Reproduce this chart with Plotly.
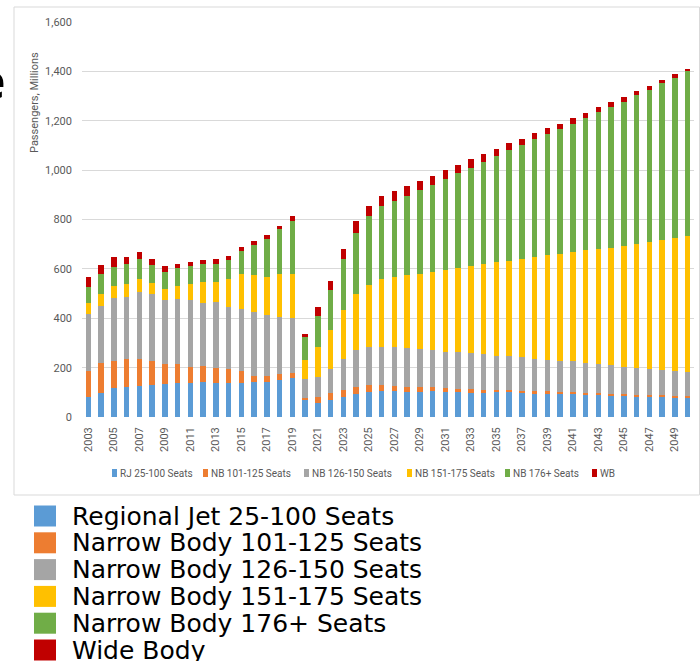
import plotly.graph_objects as go

# ---------------- data ----------------
years = [str(y) for y in range(2003, 2051)]

rj = [82, 96, 116, 122, 127, 130, 132, 138, 136,
      142, 139, 139, 139, 142, 142, 151, 159, 67,
      58, 69, 83, 95, 100, 104, 104, 103, 101,
      104, 103, 102, 99, 99, 100, 100, 97, 96, 95,
      95, 96, 92, 92, 89, 87, 85, 83, 83, 80, 80]
nb101 = [106, 121, 112, 113, 108, 98, 81, 75, 67,
         63, 59, 54, 47, 23, 23, 22, 20, 11,
         25, 27, 28, 27, 29, 25, 20, 19, 19,
         18, 15, 12, 13, 12, 10, 10, 9, 8, 9,
         5, 4, 7, 5, 6, 8, 6, 5, 5, 5, 4]
nb126 = [228, 234, 253, 251, 270, 270, 260, 265, 270,
         258, 269, 252, 252, 259, 248, 232, 222, 78,
         78, 99, 124, 149, 154, 156, 160, 157, 155,
         149, 147, 149, 147, 144, 139, 136, 136, 133, 129,
         129, 125, 121, 118, 115, 109, 108, 107, 103, 103, 97]
nb151 = [48, 47, 51, 54, 54, 46, 45, 54, 68,
         83, 82, 113, 142, 151, 155, 175, 179, 77,
         124, 158, 197, 228, 253, 275, 282, 295, 305,
         317, 331, 341, 354, 364, 378, 386, 400, 412, 424,
         432, 443, 456, 467, 477, 491, 503, 515, 525, 536, 551]
nb176 = [61, 80, 77, 81, 80, 72, 70, 71, 70,
         73, 70, 80, 93, 122, 154, 181, 216, 92,
         126, 161, 209, 246, 277, 294, 311, 323, 339,
         352, 369, 383, 397, 414, 429, 449, 460, 476, 490,
         505, 521, 535, 553, 570, 583, 602, 617, 637, 652, 671]
wb = [41, 38, 38, 27, 31, 24, 24, 17, 18,
      19, 22, 16, 16, 17, 17, 15, 17, 10,
      34, 37, 41, 48, 43, 42, 39, 41, 36,
      38, 36, 34, 35, 31, 29, 28, 26, 26, 24,
      23, 23, 23, 20, 20, 21, 16, 16, 12, 16, 9]

short_names = ["RJ 25-100 Seats", "NB 101-125 Seats", "NB 126-150 Seats",
               "NB 151-175 Seats", "NB 176+ Seats", "WB"]
long_names = ["Regional Jet 25-100 Seats", "Narrow Body 101-125 Seats",
              "Narrow Body 126-150 Seats", "Narrow Body 151-175 Seats",
              "Narrow Body 176+ Seats", "Wide Body"]
y_ticks = [0, 200, 400, 600, 800, 1000, 1200, 1400, 1600]
x_tick_years = years[::2]
y_title = "Passengers, Millions"

series = [rj, nb101, nb126, nb151, nb176, wb]
colors = ["#5B9BD5", "#ED7D31", "#A5A5A5", "#FFC000", "#70AD47", "#C00000"]

# ---------------- geometry helpers ----------------
W_FIG, H_FIG = 700, 661
L, R, T, B = 82, 694, 22, 417
PW, PH = R - L, B - T


def px(x):
    return (x - L) / PW


def py(y):
    return (B - y) / PH


fig = go.Figure()
for vals, name, col in zip(series, short_names, colors):
    fig.add_trace(go.Bar(x=years, y=vals, name=name, marker_color=col,
                         marker_line_width=0, showlegend=False))

small_family = "Liberation Sans Narrow, Roboto, sans-serif"
tick_font = dict(family=small_family, size=11, color="#595959")

fig.update_layout(
    width=W_FIG, height=H_FIG,
    margin=dict(l=L, r=W_FIG - R, t=T, b=H_FIG - B, pad=0),
    barmode="stack", bargap=0.58,
    plot_bgcolor="white", paper_bgcolor="white",
    xaxis=dict(type="category", tickmode="array", tickvals=x_tick_years,
               ticktext=x_tick_years, tickangle=-90, tickfont=tick_font,
               showgrid=False, showline=False, ticks="", ticklabelstandoff=7),
    yaxis=dict(range=[0, 1601], tickmode="array", tickvals=y_ticks,
               ticktext=[f"{v:,}" for v in y_ticks], tickfont=tick_font,
               showgrid=True, gridcolor="#d9d9d9", gridwidth=1,
               zeroline=False, showline=False, ticks="", ticklabelstandoff=9),
)

shapes = []
annotations = []

# outer chart frame
shapes.append(dict(type="rect", xref="paper", yref="paper",
                   x0=px(14), x1=px(699.5), y0=py(495), y1=py(7),
                   line=dict(color="#d9d9d9", width=1), fillcolor="rgba(0,0,0,0)",
                   layer="below"))

# y-axis title
annotations.append(dict(text=y_title, xref="paper", yref="paper",
                        x=px(34), y=py(103), showarrow=False, textangle=-90,
                        xanchor="center", yanchor="middle",
                        font=dict(family=small_family, size=11, color="#595959")))

# partial slide letter at left edge
annotations.append(dict(text="e", xref="paper", yref="paper",
                        x=px(8), y=py(80), showarrow=False,
                        xanchor="right", yanchor="middle",
                        font=dict(family="Open Sans", size=50, color="black",
                                  weight="bold")))

# small in-chart legend
small_sq_x = [112, 203, 304, 407, 505, 592]
for sx, name, col in zip(small_sq_x, short_names, colors):
    shapes.append(dict(type="rect", xref="paper", yref="paper",
                       x0=px(sx), x1=px(sx + 5), y0=py(477), y1=py(469),
                       line=dict(width=0), fillcolor=col))
    annotations.append(dict(text=name, xref="paper", yref="paper",
                            x=px(sx + 6), y=py(474), showarrow=False,
                            xanchor="left", yanchor="middle",
                            font=dict(family=small_family, size=10, color="#595959")))

# large legend below the chart
for i, (name, col) in enumerate(zip(long_names, colors)):
    cy = 516 + 26.8 * i
    shapes.append(dict(type="rect", xref="paper", yref="paper",
                       x0=px(34), x1=px(56), y0=py(cy + 10.5), y1=py(cy - 10.5),
                       line=dict(width=0), fillcolor=col))
    annotations.append(dict(text=name, xref="paper", yref="paper",
                            x=px(70), y=py(cy), showarrow=False,
                            xanchor="left", yanchor="middle",
                            font=dict(family="DejaVu Sans", size=25, color="black")))

fig.update_layout(shapes=shapes, annotations=annotations)

fig.write_html("out.html", config={"displayModeBar": False},
               post_script="document.body.style.margin='0';")
